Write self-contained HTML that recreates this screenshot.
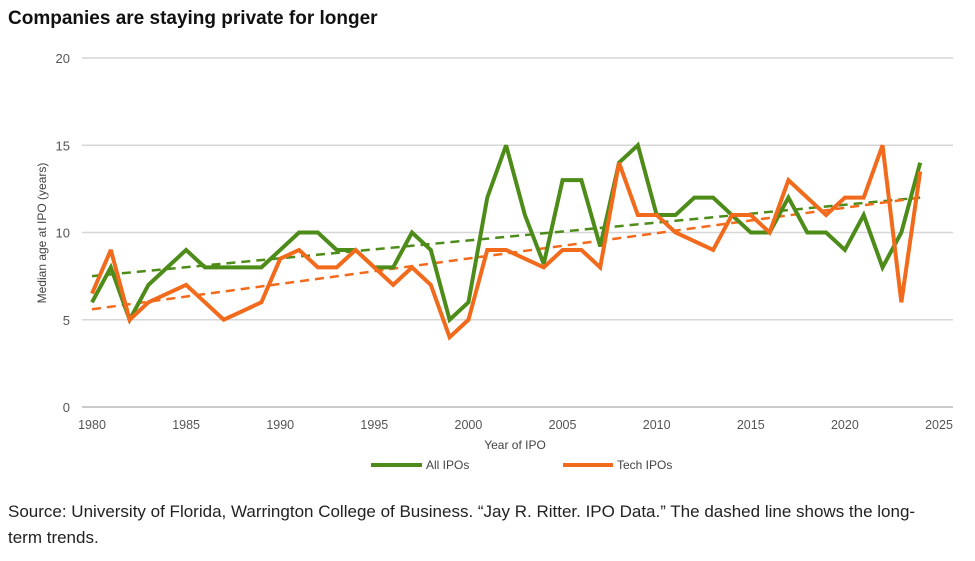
<!DOCTYPE html>
<html><head><meta charset="utf-8"><style>
body{margin:0;background:#fff;font-family:"Liberation Sans",sans-serif;}
svg text{font-family:"Liberation Sans",sans-serif;}
</style></head><body>
<svg id="c" width="975" height="556" xmlns="http://www.w3.org/2000/svg">
<text x="8" y="24" font-size="19" font-weight="bold" fill="#111">Companies are staying private for longer</text>
<g id="grid"></g><g id="series"></g>
<text transform="translate(46,233) rotate(-90)" text-anchor="middle" font-size="12" fill="#444">Median age at IPO (years)</text>
<text x="515" y="449" text-anchor="middle" font-size="12" fill="#444">Year of IPO</text>
<g><line x1="371" y1="465" x2="422" y2="465" stroke="#4e8c1a" stroke-width="4"/><text x="426" y="469" font-size="12" fill="#444">All IPOs</text></g>
<g><line x1="563" y1="465" x2="613" y2="465" stroke="#f26a1b" stroke-width="4"/><text x="617" y="469" font-size="12" fill="#444">Tech IPOs</text></g>
<text x="8" y="517" font-size="17" fill="#222">Source: University of Florida, Warrington College of Business. “Jay R. Ritter. IPO Data.” The dashed line shows the long-</text>
<text x="8" y="543" font-size="17" fill="#222">term trends.</text>
</svg>
<script>
const years=[1980,1981,1982,1983,1984,1985,1986,1987,1988,1989,1990,1991,1992,1993,1994,1995,1996,1997,1998,1999,2000,2001,2002,2003,2004,2005,2006,2007,2008,2009,2010,2011,2012,2013,2014,2015,2016,2017,2018,2019,2020,2021,2022,2023,2024];
const allIPOs=[6,8,5,7,8,9,8,8,8,8,9,10,10,9,9,8,8,10,9,5,6,12,15,11,8.2,13,13,9.2,14,15,11,11,12,12,11,10,10,12,10,10,9,11,8,10,14];
const techIPOs=[6.5,9,5,6,6.5,7,6,5,5.5,6,8.5,9,8,8,9,8,7,8,7,4,5,9,9,8.5,8,9,9,8,14,11,11,10,9.5,9,11,11,10,13,12,11,12,12,15,6,13.5];
const allTrend=[7.5,12];
const techTrend=[5.6,12];
const yTicks=[0,5,10,15,20];
const xTicks=[1980,1985,1990,1995,2000,2005,2010,2015,2020,2025];
const X=y=>92+(y-1980)*(939-92)/45;
const Y=v=>407-v*(407-58)/20;
const NS='http://www.w3.org/2000/svg';
const grid=document.getElementById('grid'),ser=document.getElementById('series');
function mk(tag,at,p){const e=document.createElementNS(NS,tag);for(const k in at)e.setAttribute(k,at[k]);p.appendChild(e);return e;}
yTicks.forEach(v=>{
 const l=mk('line',{x1:82,x2:953,y1:Y(v),y2:Y(v),stroke:v===0?'#bbb':'#d6d6d6','stroke-width':1.5},grid);
 
 
 const t=mk('text',{x:70,y:Y(v)+5,'text-anchor':'end','font-size':13,fill:'#555'},grid);t.textContent=v;
 
 
});
xTicks.forEach(v=>{
 const t=mk('text',{x:X(v),y:429,'text-anchor':'middle','font-size':12.5,fill:'#555'},grid);t.textContent=v;
 
 
});
function trend(tr,col,name){
 const l=mk('line',{x1:X(years[0]),y1:Y(tr[0]),x2:X(years[years.length-1]),y2:Y(tr[1]),stroke:col,'stroke-width':2.5,'stroke-dasharray':'9,6'},ser);
 
 
}
function line(vals,col,name){
 const p=mk('polyline',{points:vals.map((v,i)=>X(years[i])+','+Y(v)).join(' '),fill:'none',stroke:col,'stroke-width':4,'stroke-linejoin':'miter','stroke-miterlimit':3},ser);
 
 
}
trend(allTrend,'#4e8c1a','all-ipos-trend');
trend(techTrend,'#f26a1b','tech-ipos-trend');
line(allIPOs,'#4e8c1a','all-ipos-line');
line(techIPOs,'#f26a1b','tech-ipos-line');
</script>
</body></html>
